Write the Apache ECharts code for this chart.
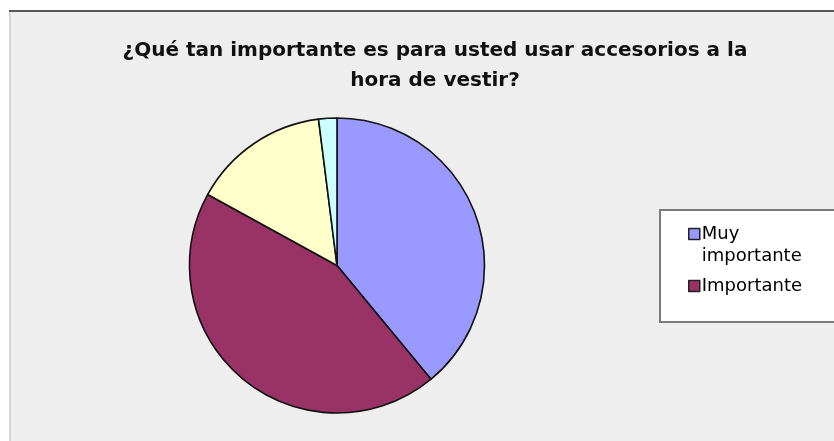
<!DOCTYPE html>
<html>
<head>
<meta charset="utf-8">
<script src="https://cdn.jsdelivr.net/npm/echarts@6/dist/echarts.min.js"></script>
<style>
html,body{margin:0;padding:0;background:#fff;}
#chart{width:834px;height:441px;}
</style>
</head>
<body>
<div id="chart"></div>
<script>
const titleText = '¿Qué tan importante es para usted usar accesorios a la\nhora de vestir?';
const categories = ['Muy importante', 'Importante', 'Poco importante', 'Nada importante'];
const values = [39, 44, 15, 2];
const colors = ['#9999ff', '#993366', '#ffffcc', '#ccffff'];
const legendShown = ['Muy importante', 'Importante'];

const chart = echarts.init(document.getElementById('chart'), null, {renderer: 'canvas'});
const option = {
  animation: false,
  backgroundColor: '#ffffff',
  graphic: [
    {type: 'rect', z: -10, shape: {x: 9, y: 10, width: 840, height: 440}, style: {fill: '#eeeeee'}},
    {type: 'rect', z: -9, shape: {x: 9, y: 10, width: 2, height: 440}, style: {fill: '#d6d6d6'}},
    {type: 'rect', z: -9, shape: {x: 9, y: 10, width: 840, height: 2}, style: {fill: '#555555'}},
    {type: 'rect', z: -5, shape: {x: 660, y: 210, width: 200, height: 112}, style: {fill: '#ffffff', stroke: '#7a7a7a', lineWidth: 2}}
  ],
  title: {
    text: titleText,
    left: 430,
    top: 31,
    textAlign: 'center',
    textStyle: {fontFamily: 'DejaVu Sans', fontWeight: 'bold', fontSize: 20, lineHeight: 30, color: '#111111'}
  },
  legend: {
    orient: 'vertical',
    left: 683,
    top: 196,
    itemWidth: 11,
    itemHeight: 11,
    itemGap: 8,
    icon: 'rect',
    data: legendShown,
    formatter: function (name) {
      return name === 'Muy importante' ? ' \nMuy\nimportante' : name;
    },
    textStyle: {fontFamily: 'DejaVu Sans', fontSize: 18, lineHeight: 22, color: '#000000', padding: [0, 0, 0, -3]},
    itemStyle: {borderColor: '#222222', borderWidth: 1.5}
  },
  series: [{
    type: 'pie',
    center: [337, 265.5],
    radius: 147.5,
    startAngle: 90,
    clockwise: true,
    label: {show: false},
    labelLine: {show: false},
    emphasis: {disabled: true},
    itemStyle: {borderColor: '#111111', borderWidth: 1.6},
    data: categories.map((c, i) => ({name: c, value: values[i], itemStyle: {color: colors[i]}}))
  }]
};
chart.setOption(option);
</script>
</body>
</html>
